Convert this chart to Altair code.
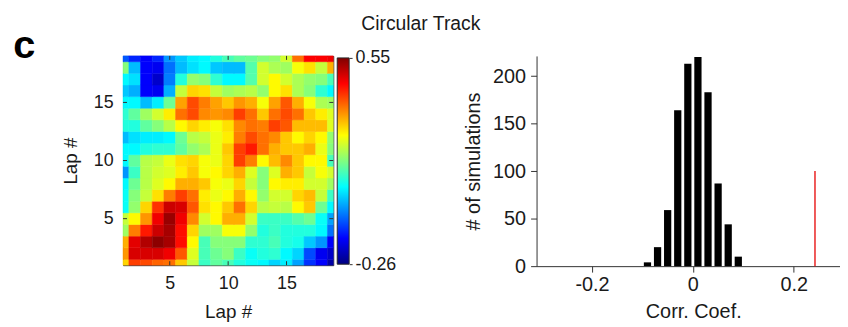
import altair as alt
import pandas as pd

# ---------------- data ----------------
LAPS = list(range(1, 20))
# lap-by-lap correlation values, one list per row (row lap), columns = lap 1..19
R19 = [-0.09, -0.13, -0.16, -0.13, -0.04, 0.00, 0.03, 0.04, 0.07, 0.10, 0.12, 0.13, 0.15, 0.16, 0.21, 0.36, 0.45, 0.45, 0.46]
R18 = [0.15, -0.01, -0.16, -0.17, -0.07, -0.01, 0.02, 0.04, 0.00, -0.01, -0.01, 0.11, 0.21, 0.18, 0.17, 0.24, 0.27, 0.20, 0.31]
R17 = [0.04, 0.02, -0.16, -0.20, -0.06, 0.07, 0.16, 0.15, 0.08, 0.04, 0.04, 0.11, 0.21, 0.25, 0.21, 0.18, 0.16, 0.15, 0.10]
R16 = [0.00, -0.02, -0.16, -0.17, -0.02, 0.20, 0.28, 0.27, 0.20, 0.17, 0.18, 0.19, 0.16, 0.25, 0.27, 0.18, 0.15, 0.08, 0.04]
R15 = [0.04, 0.04, -0.01, 0.03, 0.13, 0.32, 0.39, 0.35, 0.32, 0.29, 0.33, 0.31, 0.24, 0.32, 0.38, 0.31, 0.24, 0.18, 0.17]
R14 = [0.08, 0.12, 0.17, 0.21, 0.26, 0.36, 0.39, 0.34, 0.33, 0.34, 0.40, 0.36, 0.29, 0.36, 0.39, 0.36, 0.29, 0.26, 0.22]
R13 = [0.07, 0.07, 0.12, 0.15, 0.19, 0.25, 0.28, 0.26, 0.24, 0.27, 0.34, 0.36, 0.35, 0.40, 0.38, 0.30, 0.30, 0.30, 0.22]
R12 = [-0.01, 0.02, 0.03, 0.03, 0.04, 0.13, 0.19, 0.20, 0.23, 0.26, 0.35, 0.39, 0.36, 0.34, 0.29, 0.25, 0.28, 0.25, 0.16]
R11 = [0.04, 0.04, 0.07, 0.08, 0.08, 0.12, 0.16, 0.18, 0.23, 0.29, 0.40, 0.43, 0.36, 0.31, 0.29, 0.29, 0.31, 0.23, 0.15]
R10 = [0.04, 0.12, 0.19, 0.20, 0.23, 0.27, 0.28, 0.24, 0.23, 0.28, 0.40, 0.35, 0.25, 0.30, 0.34, 0.29, 0.25, 0.25, 0.10]
R09 = [-0.04, 0.09, 0.19, 0.21, 0.22, 0.26, 0.29, 0.24, 0.25, 0.28, 0.31, 0.22, 0.15, 0.22, 0.31, 0.29, 0.20, 0.24, 0.21]
R08 = [0.04, 0.13, 0.19, 0.22, 0.25, 0.31, 0.31, 0.29, 0.24, 0.23, 0.28, 0.20, 0.15, 0.25, 0.26, 0.26, 0.21, 0.21, 0.17]
R07 = [0.05, 0.15, 0.20, 0.27, 0.35, 0.40, 0.36, 0.26, 0.23, 0.25, 0.31, 0.25, 0.16, 0.21, 0.21, 0.28, 0.30, 0.20, 0.09]
R06 = [0.05, 0.16, 0.28, 0.41, 0.49, 0.48, 0.38, 0.27, 0.25, 0.29, 0.36, 0.28, 0.19, 0.20, 0.19, 0.25, 0.29, 0.13, 0.04]
R05 = [0.20, 0.25, 0.33, 0.46, 0.53, 0.46, 0.34, 0.21, 0.25, 0.31, 0.31, 0.21, 0.09, 0.09, 0.09, 0.11, 0.13, 0.05, -0.03]
R04 = [0.17, 0.35, 0.43, 0.49, 0.52, 0.44, 0.28, 0.17, 0.17, 0.24, 0.24, 0.16, 0.07, 0.09, 0.07, 0.07, 0.07, 0.04, -0.07]
R03 = [0.31, 0.47, 0.51, 0.54, 0.52, 0.44, 0.25, 0.10, 0.15, 0.15, 0.15, 0.08, 0.08, 0.10, 0.07, 0.06, 0.00, -0.04, -0.16]
R02 = [0.33, 0.48, 0.48, 0.48, 0.46, 0.38, 0.22, 0.10, 0.13, 0.15, 0.09, 0.05, 0.07, 0.08, 0.04, 0.01, -0.10, -0.17, -0.20]
R01 = [0.28, 0.40, 0.39, 0.37, 0.36, 0.29, 0.20, 0.09, 0.12, 0.10, 0.07, 0.05, 0.04, 0.01, 0.03, -0.03, -0.12, -0.16, -0.23]
ROWS = [R01, R02, R03, R04, R05, R06, R07, R08, R09, R10,
        R11, R12, R13, R14, R15, R16, R17, R18, R19]

CBAR_LIMITS = [-0.26, 0.55]
LAP_TICKS = [5, 10, 15]

BIN_CENTERS = [-0.09, -0.07, -0.05, -0.03, -0.01, 0.01, 0.03, 0.05, 0.07, 0.09]
SIM_COUNTS = [4, 20, 59, 164, 213, 220, 183, 87, 44, 10]
COUNT_TICKS = [0, 50, 100, 150, 200]
CORR_TICKS = [-0.2, 0, 0.2]
OBS_CORR = [0.242]
OBS_TOP = [100]

# ---------------- styling ----------------
FONT = "Liberation Sans"
TXT = "#1a1a1a"
AX = "#333333"
JET = ["#000080", "#0000ff", "#0080ff", "#00ffff", "#80ff80",
       "#ffff00", "#ff8000", "#ff0000", "#800000"]
JET_OFFS = [0.0, 0.125, 0.25, 0.375, 0.5, 0.625, 0.75, 0.875, 1.0]
LAB = 18
TIT = 19
HLAB = 20
HTIT = 20

CMIN, CMAX = CBAR_LIMITS
H_W, H_H = 212, 211
LO, HI = LAPS[0], LAPS[-1]

recs = []
for ly, row in zip(LAPS, ROWS):
    for lx, v in zip(LAPS, row):
        recs.append({
            "x0": max(lx - 0.5, LO), "x1": min(lx + 0.5, HI),
            "y0": max(ly - 0.5, LO), "y1": min(ly + 0.5, HI), "v": v,
        })
heat_df = pd.DataFrame(recs)

xs = alt.Scale(domain=[LO, HI], nice=False, zero=False)
ys = alt.Scale(domain=[LO, HI], nice=False, zero=False)
cscale = alt.Scale(domain=[CMIN, CMAX], range=JET, interpolate="rgb")

lap_x_axis = alt.Axis(
    values=LAP_TICKS, ticks=False, tickSize=0, domain=False, grid=False,
    labelPadding=10, labelFontSize=LAB, titleFontSize=TIT,
    title="Lap #", titleY=53, titleBaseline="alphabetic")
lap_y_axis = alt.Axis(
    values=LAP_TICKS, ticks=False, tickSize=0, domain=False, grid=False,
    labelPadding=10, labelFontSize=LAB, titleFontSize=TIT,
    title="Lap #", titleX=-46.7, titleBaseline="alphabetic")

heat = alt.Chart(heat_df).mark_rect(strokeWidth=0.5).encode(
    x=alt.X("x0:Q", scale=xs, axis=lap_x_axis),
    x2="x1:Q",
    y=alt.Y("y0:Q", scale=ys, axis=lap_y_axis),
    y2="y1:Q",
    color=alt.Color("v:Q", scale=cscale, legend=None),
    stroke=alt.Stroke("v:Q", scale=cscale, legend=None),
)

tick_df = pd.DataFrame({"t": LAP_TICKS})
tick_bottom = alt.Chart(tick_df).mark_rule(color=AX).encode(
    x=alt.X("t:Q", scale=xs, axis=lap_x_axis), y=alt.value(H_H), y2=alt.value(H_H - 4))
tick_top = alt.Chart(tick_df).mark_rule(color=AX).encode(
    x=alt.X("t:Q", scale=xs, axis=lap_x_axis), y=alt.value(0), y2=alt.value(4))
tick_left = alt.Chart(tick_df).mark_rule(color=AX).encode(
    y=alt.Y("t:Q", scale=ys, axis=lap_y_axis), x=alt.value(0), x2=alt.value(4))
tick_right = alt.Chart(tick_df).mark_rule(color=AX).encode(
    y=alt.Y("t:Q", scale=ys, axis=lap_y_axis), x=alt.value(H_W - 4), x2=alt.value(H_W))

txt_df = pd.DataFrame({"s": ["c"], "t": ["Circular Track"]})
panel = alt.Chart(txt_df).mark_text(
    align="left", baseline="alphabetic", fontSize=40, fontWeight="bold",
    font=FONT, color="#000000").encode(text="s:N", x=alt.value(-110.7), y=alt.value(2))
title = alt.Chart(txt_df).mark_text(
    align="center", baseline="alphabetic", fontSize=19.5, font=FONT,
    color=TXT).encode(text="t:N", x=alt.value(300.3), y=alt.value(-26))

left = alt.layer(heat, tick_bottom, tick_top, tick_left, tick_right, panel, title).properties(
    width=H_W, height=H_H, view=alt.ViewBackground(stroke="#262626", strokeWidth=1))

# colour bar (same jet map) in its own narrow view
CB_W, CB_VIEW_W, CB_H = 12, 197, 210
px_per = 208.0 / (CMAX - CMIN)
cb_dom = [CMIN, CMIN + CB_H / px_per]
cb_df = pd.DataFrame({"lo": [CMIN], "hi": [CMAX]})
jet_grad = alt.LinearGradient(
    gradient="linear", x1=0, x2=0, y1=1, y2=0,
    stops=[alt.GradientStop(color=c, offset=o) for c, o in zip(JET, JET_OFFS)])
cbar = alt.Chart(cb_df).mark_rect(fill=jet_grad, stroke="#262626", strokeWidth=1).encode(
    x=alt.value(0), x2=alt.value(CB_W),
    y=alt.Y("lo:Q", scale=alt.Scale(domain=cb_dom, nice=False, zero=False),
            axis=alt.Axis(orient="right", offset=CB_W - CB_VIEW_W, values=CBAR_LIMITS,
                          domain=False, grid=False, tickSize=3, labelPadding=3, title=None,
                          labelFontSize=LAB,
                          labelExpr="(datum.value < 0 ? '-' : '') + format(abs(datum.value), '.2f')")),
    y2="hi:Q",
).properties(width=CB_VIEW_W, height=CB_H)

# histogram of shuffled correlations
hx = alt.Scale(domain=[-0.3, -0.3 + 306 / 526.0], nice=False, zero=False)
hy = alt.Scale(domain=[0, 221.2], nice=False, zero=True)
corr_axis = alt.Axis(
    values=CORR_TICKS, tickSize=6, labelPadding=3, grid=False,
    labelFontSize=HLAB, titleFontSize=HTIT,
    labelExpr="datum.value == 0 ? '0' : (datum.value < 0 ? '-' : '') + format(abs(datum.value), '.1f')",
    title="Corr. Coef.", titleX=158, titleY=52, titleBaseline="alphabetic")
count_axis = alt.Axis(
    values=COUNT_TICKS, tickSize=6, labelPadding=5, grid=False,
    labelFontSize=HLAB, titleFontSize=HTIT,
    title="# of simulations", titleX=-57.7, titleBaseline="alphabetic")
hist_df = pd.DataFrame({"c": BIN_CENTERS, "n": SIM_COUNTS})
bars = alt.Chart(hist_df).mark_bar(color="#000000", size=7.3).encode(
    x=alt.X("c:Q", scale=hx, axis=corr_axis),
    y=alt.Y("n:Q", scale=hy, axis=count_axis),
)
obs_df = pd.DataFrame({"c": OBS_CORR, "n0": [0], "n": OBS_TOP})
obs = alt.Chart(obs_df).mark_rule(color="#e60000", strokeWidth=1.3).encode(
    x=alt.X("c:Q", scale=hx, axis=corr_axis),
    y=alt.Y("n0:Q", scale=hy, axis=count_axis), y2="n:Q")
right = alt.layer(bars, obs).properties(width=306, height=212)

chart = alt.hconcat(left, cbar, right, spacing=4, bounds="flush").properties(
    padding={"left": 4, "top": 4, "right": 0, "bottom": 0}
).configure(font=FONT).configure_view(strokeWidth=0).configure_axis(
    labelFont=FONT, titleFont=FONT,
    labelColor=TXT, titleColor=TXT, titleFontWeight="normal",
    domainColor=AX, tickColor=AX, domainWidth=1, tickWidth=1)

chart.save("out.html", embed_options={"renderer": "svg", "actions": False})
